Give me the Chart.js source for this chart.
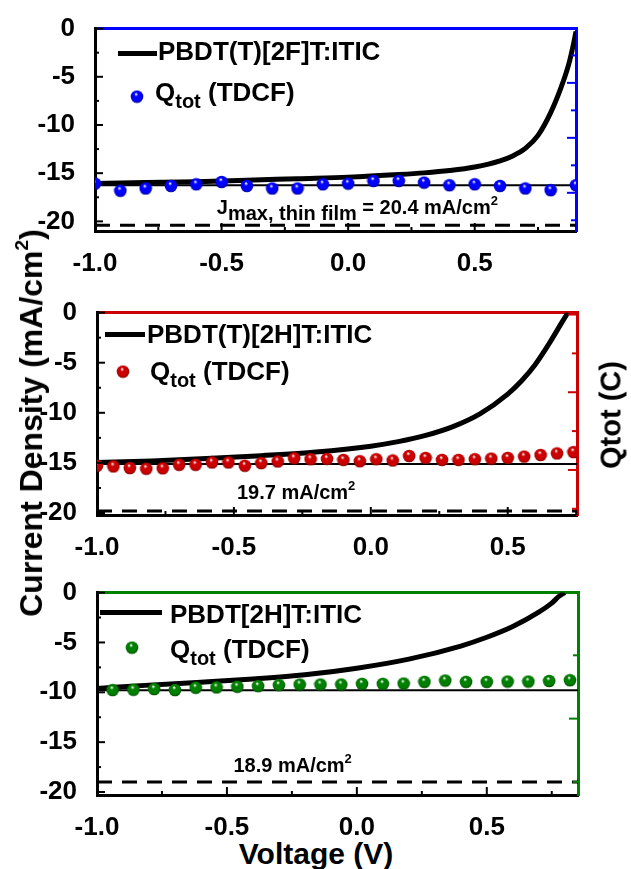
<!DOCTYPE html>
<html>
<head>
<meta charset="utf-8">
<script src="https://cdn.jsdelivr.net/npm/chart.js@4.4.1/dist/chart.umd.min.js"></script>
<style>
  body { margin: 0; background: #fff; width: 631px; height: 869px; position: relative; overflow: hidden;
         font-family: "Liberation Sans", Arial, sans-serif; }
  canvas { position: absolute; left: 0; }
  .title { position: absolute; font-weight: bold; color: #000; white-space: nowrap; line-height: 1;
           transform: translate(-50%, -50%); }
  .vert { transform: translate(-50%, -50%) rotate(-90deg); }
  .title sup { font-size: 0.6em; vertical-align: 0.75em; line-height: 0; }
</style>
</head>
<body>
<canvas id="panel1" width="631" height="270" style="top:1px"></canvas>
<canvas id="panel2" width="631" height="270" style="top:285px"></canvas>
<canvas id="panel3" width="631" height="270" style="top:565px"></canvas>
<div class="title vert" style="left:31px; top:423px; font-size:32px">Current Density (mA/cm<sup>2</sup>)</div>
<div class="title" style="left:316px; top:854px; font-size:30px">Voltage (V)</div>
<div class="title vert" style="left:611px; top:415px; font-size:29px">Qtot (C)</div>
<script>
// ---- PBDT(T)[2F]T:ITIC ----
var jvV1 = [-1.0, -0.8, -0.6, -0.4, -0.2, 0.0, 0.2, 0.3, 0.4, 0.5, 0.6, 0.65, 0.7, 0.75, 0.8, 0.84, 0.87, 0.89, 0.9];
var jvJ1 = [-16.08, -15.98, -15.88, -15.74, -15.57, -15.41, -15.14, -14.97, -14.73, -14.36, -13.72, -13.21, -12.43, -11.08, -8.72, -6.18, -3.82, -1.62, -0.3];
var qV1 = [-1.0, -0.9, -0.8, -0.7, -0.6, -0.5, -0.4, -0.3, -0.2, -0.1, 0.0, 0.1, 0.2, 0.3, 0.4, 0.5, 0.6, 0.7, 0.8, 0.9];
var qJ1 = [-16.08, -16.82, -16.59, -16.32, -16.15, -15.91, -16.32, -16.59, -16.59, -16.15, -16.08, -15.81, -15.81, -15.98, -16.25, -16.15, -16.32, -16.59, -16.76, -16.25];
var jsc1 = -16.25;
var jmax1 = -20.4;

// ---- PBDT(T)[2H]T:ITIC ----
var jvV2 = [-1.0, -0.8, -0.6, -0.4, -0.2, 0.0, 0.1, 0.2, 0.3, 0.4, 0.5, 0.55, 0.6, 0.65, 0.7, 0.72];
var jvJ2 = [-14.96, -14.80, -14.57, -14.28, -13.92, -13.33, -12.88, -12.26, -11.38, -10.08, -8.13, -6.83, -5.20, -3.15, -0.88, 0];
var qV2 = [-1.0, -0.94, -0.88, -0.82, -0.76, -0.70, -0.64, -0.58, -0.52, -0.46, -0.40, -0.34, -0.28, -0.22, -0.16,
           -0.10, -0.04, 0.02, 0.08, 0.14, 0.20, 0.26, 0.32, 0.38, 0.44, 0.50, 0.56, 0.62, 0.68, 0.74];
var qJ2 = [-15.28, -15.35, -15.51, -15.58, -15.54, -15.19, -15.19, -14.96, -14.96, -15.28, -15.02, -14.86, -14.54, -14.63, -14.60,
           -14.70, -14.83, -14.63, -14.76, -14.31, -14.50, -14.70, -14.70, -14.63, -14.57, -14.50, -14.37, -14.21, -14.05, -13.92];
var jsc2 = -15.12;
var jmax2 = -19.8;

// ---- PBDT[2H]T:ITIC ----
var jvV3 = [-1.0, -0.8, -0.6, -0.4, -0.2, 0.0, 0.2, 0.4, 0.5, 0.6, 0.7, 0.75, 0.78, 0.8];
var jvJ3 = [-9.61, -9.28, -8.99, -8.66, -8.24, -7.58, -6.67, -5.36, -4.48, -3.40, -1.96, -1.05, -0.33, 0];
var qV3 = [-0.94, -0.86, -0.78, -0.70, -0.62, -0.54, -0.46, -0.38, -0.30, -0.22, -0.14, -0.06, 0.02, 0.10, 0.18,
           0.26, 0.34, 0.42, 0.50, 0.58, 0.66, 0.74, 0.82];
var qJ3 = [-9.77, -9.74, -9.67, -9.77, -9.54, -9.51, -9.44, -9.38, -9.28, -9.22, -9.22, -9.22, -9.15, -9.15, -9.12,
           -8.95, -8.82, -8.95, -8.95, -8.92, -8.92, -8.86, -8.79];
var jsc3 = -9.8;
var jmax3 = -19.0;

var FONT = '"Liberation Sans", Arial, sans-serif';
Chart.defaults.font.family = FONT;
Chart.defaults.color = '#000';

function zip(xs, ys) {
    return xs.map(function (x, i) { return { x: x, y: ys[i] }; });
}

function isMajor(v, step) {
    var r = Math.abs(v / step - Math.round(v / step));
    return r < 1e-6;
}

// shaded sphere used as point style
function ball(color, dark) {
    var c = document.createElement('canvas');
    c.width = c.height = 14;
    var g = c.getContext('2d');
    var grad = g.createRadialGradient(6, 4.3, 0.3, 7, 7, 7);
    grad.addColorStop(0, '#ffffff');
    grad.addColorStop(0.25, color);
    grad.addColorStop(0.7, color);
    grad.addColorStop(1, dark);
    g.fillStyle = grad;
    g.beginPath();
    g.arc(7, 7, 6.3, 0, Math.PI * 2);
    g.fill();
    return c;
}

function line(ctx, x1, y1, x2, y2) {
    ctx.beginPath();
    ctx.moveTo(x1, y1);
    ctx.lineTo(x2, y2);
    ctx.stroke();
}

function drawPieces(ctx, pieces, x, y) {
    pieces.forEach(function (p) {
        ctx.font = 'bold ' + p.size + 'px ' + FONT;
        ctx.fillText(p.text, x, y + p.dy);
        x += ctx.measureText(p.text).width;
    });
}

// inward ticks, legend and the J_max note
var panelDecor = {
    id: 'panelDecor',
    afterDatasetsDraw: function (chart, args, o) {
        var ctx = chart.ctx, a = chart.chartArea;
        var sx = chart.scales.x, sy = chart.scales.y, s2 = chart.scales.y2;
        ctx.save();
        ctx.lineWidth = 2;
        ctx.strokeStyle = '#000';
        sx.ticks.forEach(function (t) {
            var px = sx.getPixelForValue(t.value);
            line(ctx, px, a.bottom, px, a.bottom - (isMajor(t.value, 0.5) ? 8 : 4));
        });
        sy.ticks.forEach(function (t) {
            var py = sy.getPixelForValue(t.value);
            line(ctx, a.left, py, a.left + (isMajor(t.value, 5) ? 8 : 4), py);
        });
        ctx.strokeStyle = o.color;
        s2.ticks.forEach(function (t) {
            var py = s2.getPixelForValue(t.value);
            line(ctx, a.right, py, a.right - (Math.abs(t.value) % 2 === 1 ? 9 : 5), py);
        });

        // legend
        var L = o.legend, ds = chart.data.datasets;
        ctx.strokeStyle = '#000';
        ctx.fillStyle = '#000';
        ctx.lineWidth = 5;
        line(ctx, a.left + L.lineX[0], a.top + L.lineY, a.left + L.lineX[1], a.top + L.lineY);
        ctx.textBaseline = 'alphabetic';
        ctx.textAlign = 'left';
        drawPieces(ctx, [{ text: ds[1].label, size: 26, dy: 0 }], a.left + L.textX, a.top + L.textY);
        ctx.drawImage(o.dot, a.left + L.dotX - 7, a.top + L.dotY - 7);
        drawPieces(ctx, [{ text: 'Q', size: 26, dy: 0 }, { text: 'tot', size: 20, dy: 7 }, { text: ' (TDCF)', size: 26, dy: 0 }],
            a.left + L.qX, a.top + L.qY);

        // J_max note
        drawPieces(ctx, o.note.pieces, sx.getPixelForValue(o.note.v), sy.getPixelForValue(o.note.j));
        ctx.restore();
    }
};

function makePanel(p) {
    var dot = ball(p.color, p.dark);
    return new Chart(document.getElementById(p.canvas), {
        type: 'line',
        data: {
            datasets: [
                { label: 'Qtot (TDCF)', data: zip(p.qV, p.qJ), showLine: false, pointStyle: dot, pointRadius: 7, order: 0 },
                { label: p.name, data: zip(p.jvV, p.jvJ), borderColor: '#000', borderWidth: 5, pointRadius: 0,
                  cubicInterpolationMode: 'monotone', order: 1 },
                { label: 'Jsc', data: [{ x: -1, y: p.jsc }, { x: p.xMax, y: p.jsc }], borderColor: '#000', borderWidth: 2,
                  pointRadius: 0, order: 2 },
                { label: 'Jmax', data: [{ x: -1, y: p.jmax }, { x: p.xMax, y: p.jmax }], borderColor: '#000', borderWidth: 3,
                  borderDash: [15, 10], pointRadius: 0, order: 3 }
            ]
        },
        options: {
            responsive: false,
            animation: false,
            devicePixelRatio: 1,
            events: [],
            layout: { padding: { top: 23, right: 631 - p.right, left: 0, bottom: 0 } },
            plugins: {
                legend: { display: false },
                tooltip: { enabled: false },
                panelDecor: { color: p.color, legend: p.legend, note: p.note, dot: dot }
            },
            scales: {
                x: {
                    type: 'linear', position: 'bottom', min: -1, max: p.xMax,
                    grid: { display: false },
                    border: { color: '#000', width: 3 },
                    ticks: {
                        stepSize: 0.25, includeBounds: false, autoSkip: false, maxRotation: 0, padding: 9,
                        font: { size: 26, weight: 'bold' },
                        callback: function (v) { return isMajor(v, 0.5) ? (Math.abs(v) < 1e-9 ? 0 : v).toFixed(1) : ''; }
                    },
                    afterFit: function (s) { s.height = 40; }
                },
                xTop: {
                    type: 'linear', position: 'top', min: -1, max: p.xMax,
                    grid: { display: false },
                    border: { color: p.color, width: 3 },
                    ticks: { display: false },
                    afterFit: function (s) { s.height = 0; }
                },
                y: {
                    type: 'linear', position: 'left', min: p.yMin, max: 0,
                    grid: { display: false },
                    border: { color: '#000', width: 3 },
                    ticks: {
                        stepSize: 2.5, includeBounds: false, autoSkip: false, padding: 12,
                        font: { size: 26, weight: 'bold' },
                        callback: function (v) { return isMajor(v, 5) ? String(Math.round(v)) : ''; }
                    },
                    afterFit: function (s) { s.width = p.left; }
                },
                y2: {
                    type: 'linear', position: 'right', min: p.y2[0], max: p.y2[1],
                    grid: { display: false },
                    border: { color: p.color, width: 3 },
                    ticks: { display: false, stepSize: 1, includeBounds: false },
                    afterFit: function (s) { s.width = 0; }
                }
            }
        },
        plugins: [panelDecor]
    });
}

makePanel({
    canvas: 'panel1', name: 'PBDT(T)[2F]T:ITIC', color: '#0000ff', dark: '#00007a',
    jvV: jvV1, jvJ: jvJ1, qV: qV1, qJ: qJ1, jsc: jsc1, jmax: jmax1,
    xMax: 0.9, yMin: -21, y2: [-0.39, 6.975], left: 95, right: 576,
    legend: { lineX: [23, 62], lineY: 25, textX: 63, textY: 31, dotX: 42, dotY: 68, qX: 60, qY: 72 },
    note: { v: -0.519, j: -19.2, pieces: [
        { text: 'J', size: 20, dy: 0 }, { text: 'max, thin film', size: 20, dy: 6 },
        { text: ' = 20.4 mA/cm', size: 20, dy: 0 }, { text: '2', size: 13, dy: -9 }] }
});

makePanel({
    canvas: 'panel2', name: 'PBDT(T)[2H]T:ITIC', color: '#cc0000', dark: '#6e0000',
    jvV: jvV2, jvJ: jvJ2, qV: qV2, qJ: qJ2, jsc: jsc2, jmax: jmax2,
    xMax: 0.753, yMin: -20.2, y2: [-0.16, 5.05], left: 97, right: 577,
    legend: { lineX: [8, 48], lineY: 22, textX: 50, textY: 30, dotX: 26, dotY: 59, qX: 53, qY: 67 },
    note: { v: -0.489, j: -18.57, pieces: [
        { text: '19.7 mA/cm', size: 20, dy: 0 }, { text: '2', size: 13, dy: -9 }] }
});

makePanel({
    canvas: 'panel3', name: 'PBDT[2H]T:ITIC', color: '#008000', dark: '#003d00',
    jvV: jvV3, jvJ: jvJ3, qV: qV3, qJ: qJ3, jsc: jsc3, jmax: jmax3,
    xMax: 0.851, yMin: -20.3, y2: [-0.206, 2.99], left: 97, right: 578,
    legend: { lineX: [3, 65], lineY: 20, textX: 73, textY: 30, dotX: 35, dotY: 55, qX: 73, qY: 65 },
    note: { v: -0.475, j: -18.04, pieces: [
        { text: '18.9 mA/cm', size: 20, dy: 0 }, { text: '2', size: 13, dy: -9 }] }
});
</script>
</body>
</html>
